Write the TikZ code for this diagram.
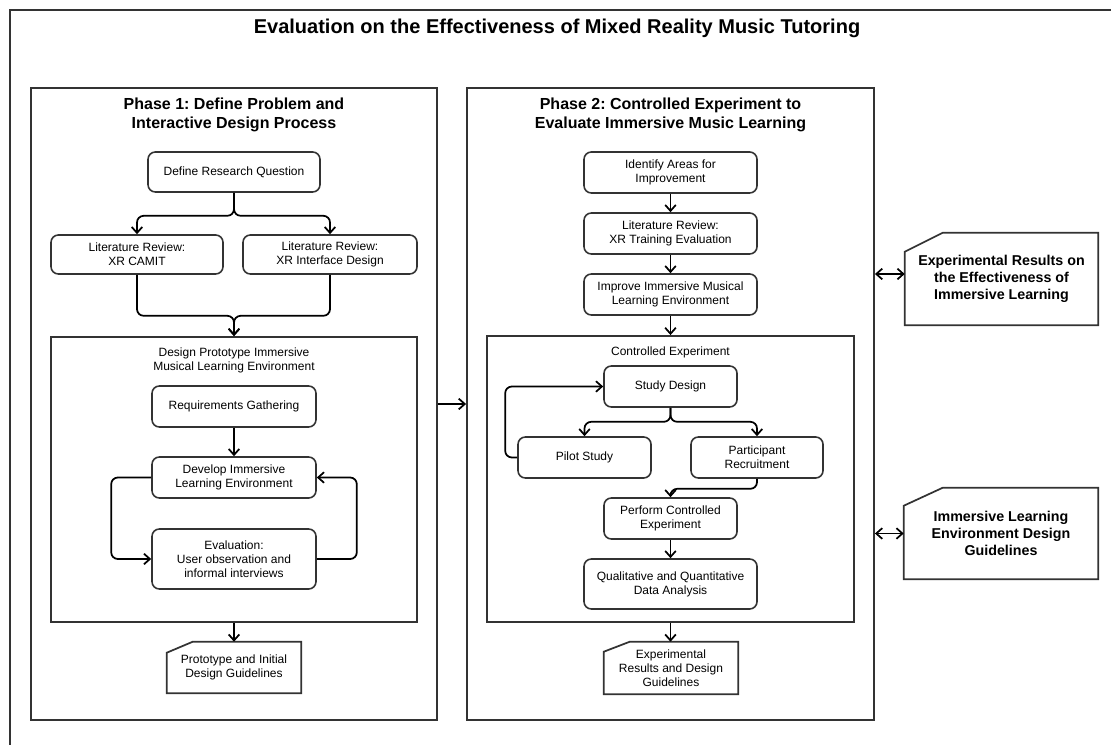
\documentclass[tikz,border=0pt]{standalone}
\usepackage{fontspec}
\setmainfont{Liberation Sans}
\usetikzlibrary{arrows.meta,calc}
\frenchspacing
\begin{document}
\begin{tikzpicture}[x=0.75pt,y=-0.75pt,
  frame/.style={draw=black!80,line width=1.4pt,inner sep=0pt},
  rbox/.style={draw=black!80,line width=1.2pt,rounded corners=5.5pt,align=center,
    font=\fontsize{9}{10.5}\selectfont,inner sep=0pt},
  cardtxt/.style={inner sep=0pt,align=center,font=\fontsize{9}{10.5}\selectfont},
  bigcard/.style={inner sep=0pt,align=center,font=\fontsize{10.7}{12.75}\selectfont\bfseries},
  cardline/.style={draw=black!80,line width=1.3pt},
  arr/.style={draw=black,line width=1.3pt,rounded corners=5pt,-{Straight Barb[length=4.5pt,width=8pt]}},
  darr/.style={draw=black,line width=1.3pt,{Straight Barb[length=4.5pt,width=8pt]}-{Straight Barb[length=4.5pt,width=8pt]}},
  ptitle/.style={align=center,font=\fontsize{12}{14.5}\selectfont\bfseries},
  stitle/.style={align=center,font=\fontsize{9}{10.5}\selectfont}]
\useasboundingbox (0,0) rectangle (1111,745);
% outer frame
\draw[black!80,line width=1.4pt] (10,745) -- (10,10) -- (1111,10);
\node[font=\fontsize{15}{18}\selectfont\bfseries] (title) at (557,28) {Evaluation on the Effectiveness of Mixed Reality Music Tutoring};

% phase frames
\node[frame,minimum width=406*0.75pt,minimum height=632*0.75pt] (p1) at (234,404) {};
\node[frame,minimum width=407*0.75pt,minimum height=632*0.75pt] (p2) at (670.5,404) {};
\node[ptitle] (p1t) at (234,115) {Phase 1: Define Problem and\\Interactive Design Process};
\node[ptitle] (p2t) at (670.5,115) {Phase 2: Controlled Experiment to\\Evaluate Immersive Music Learning};

% phase 1
\node[rbox,minimum width=172*0.75pt,minimum height=40*0.75pt] (drq) at (234,172) {Define Research Question};
\node[rbox,minimum width=172*0.75pt,minimum height=39*0.75pt] (camit) at (137,254.5) {Literature Review:\\XR CAMIT};
\node[rbox,minimum width=174*0.75pt,minimum height=39*0.75pt] (xrid) at (330,254.5) {Literature Review:\\XR Interface Design};
\node[frame,minimum width=366*0.75pt,minimum height=285*0.75pt] (dp) at (234,479.5) {};
\node[stitle] (dpt) at (234,360) {Design Prototype Immersive\\Musical Learning Environment};
\node[rbox,minimum width=164*0.75pt,minimum height=41*0.75pt] (req) at (234,406.5) {Requirements Gathering};
\node[rbox,minimum width=164*0.75pt,minimum height=41*0.75pt] (dev) at (234,477.5) {Develop Immersive\\Learning Environment};
\node[rbox,minimum width=164*0.75pt,minimum height=60*0.75pt] (evl) at (234,559) {Evaluation:\\User observation and\\informal interviews};
\node[cardtxt,minimum width=134*0.75pt,minimum height=51*0.75pt] (proto) at (234,667.5) {Prototype and Initial\\Design Guidelines};

% phase 2
\node[rbox,minimum width=173*0.75pt,minimum height=41*0.75pt] (ident) at (670.5,172.5) {Identify Areas for\\Improvement};
\node[rbox,minimum width=173*0.75pt,minimum height=41*0.75pt] (litxr) at (670.5,233.5) {Literature Review:\\XR Training Evaluation};
\node[rbox,minimum width=173*0.75pt,minimum height=41*0.75pt] (impr) at (670.5,294.5) {Improve Immersive Musical\\Learning Environment};
\node[frame,minimum width=367*0.75pt,minimum height=286*0.75pt] (ce) at (670.5,479) {};
\node[stitle] (cet) at (670.5,352) {Controlled Experiment};
\node[rbox,minimum width=133*0.75pt,minimum height=41*0.75pt] (sd) at (670.5,386.5) {Study Design};
\node[rbox,minimum width=133*0.75pt,minimum height=41*0.75pt] (pilot) at (584.5,457.5) {Pilot Study};
\node[rbox,minimum width=132*0.75pt,minimum height=41*0.75pt] (pr) at (757,457.5) {Participant\\Recruitment};
\node[rbox,minimum width=133*0.75pt,minimum height=41*0.75pt] (perf) at (670.5,518.5) {Perform Controlled\\Experiment};
\node[rbox,minimum width=173*0.75pt,minimum height=50*0.75pt] (qual) at (670.5,584) {Qualitative and Quantitative\\Data Analysis};
\node[cardtxt,minimum width=134*0.75pt,minimum height=52*0.75pt] (exres) at (671,668) {Experimental\\Results and Design\\Guidelines};

% right outputs
\node[bigcard,minimum width=193*0.75pt,minimum height=92*0.75pt] (r1) at (1001.5,279) {Experimental Results on\\the Effectiveness of\\Immersive Learning};
\node[bigcard,minimum width=194*0.75pt,minimum height=91*0.75pt] (r2) at (1001,533.5) {Immersive Learning\\Environment Design\\Guidelines};

% card outlines
\draw[cardline] (proto.south west) -- ($(proto.north west)+(0,11)$) -- ($(proto.north west)+(26,0)$) -- (proto.north east) -- (proto.south east) -- cycle;
\draw[cardline] (exres.south west) -- ($(exres.north west)+(0,10)$) -- ($(exres.north west)+(26,0)$) -- (exres.north east) -- (exres.south east) -- cycle;
\draw[cardline] (r1.south west) -- ($(r1.north west)+(0,19)$) -- ($(r1.north west)+(38,0)$) -- (r1.north east) -- (r1.south east) -- cycle;
\draw[cardline] (r2.south west) -- ($(r2.north west)+(0,18)$) -- ($(r2.north west)+(39,0)$) -- (r2.north east) -- (r2.south east) -- cycle;

% phase 1 connectors
\draw[arr] (drq.south) -- ++(0,23) -| (camit.north);
\draw[arr] (drq.south) -- ++(0,23) -| (xrid.north);
\draw[arr] (camit.south) -- ++(0,41) -| (dp.north);
\draw[arr] (xrid.south) -- ++(0,41) -| (dp.north);
\draw[arr] (req) -- (dev);
\draw[arr] (dev.west) -- ++(-40,0) |- (evl.west);
\draw[arr] (evl.east) -- ++(40,0) |- (dev.east);
\draw[arr] (dp.south) -- (proto.north);

% between phases
\draw[arr] (p1.east) -- (p2.west);

% phase 2 connectors
\draw[arr] (ident) -- (litxr);
\draw[arr] (litxr) -- (impr);
\draw[arr] (impr.south) -- (ce.north);
\draw[arr] (sd.south) -- ++(0,14) -| (pilot.north);
\draw[arr] (sd.south) -- ++(0,14) -| (pr.north);
\draw[arr] (pilot.west) -- ++(-12,0) |- (sd.west);
\draw[arr] (pr.south) -- ++(0,10) -| (perf.north);
\draw[arr] (perf) -- (qual);
\draw[arr] (ce.south) -- (ce.south |- exres.north);

% double arrows
\coordinate (r1a) at ([yshift=3.75pt]r1.west);
\draw[darr] (p2.east |- r1a) -- (r1a);
\draw[darr] (p2.east |- r2.west) -- (r2.west);
\end{tikzpicture}
\end{document}
